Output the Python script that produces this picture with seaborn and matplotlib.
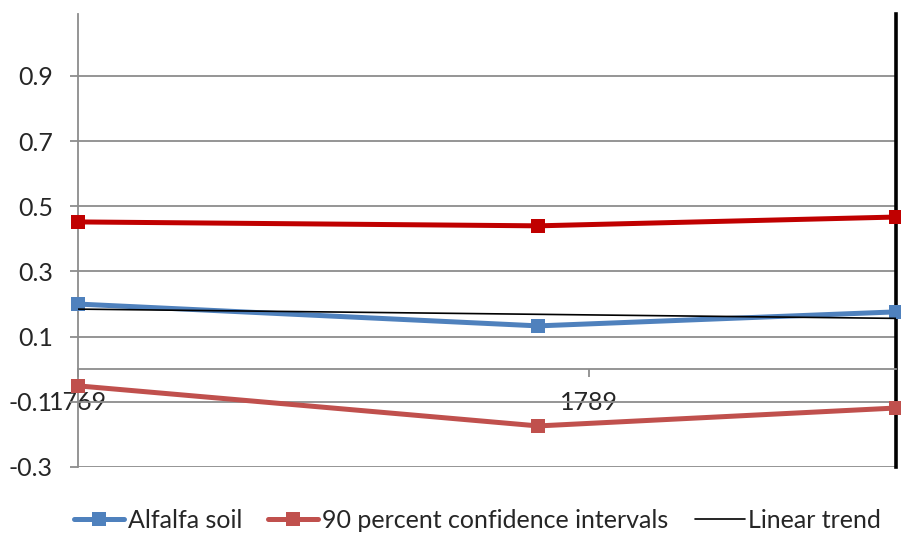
import numpy as np
import pandas as pd
import seaborn as sns
import matplotlib.pyplot as plt
from matplotlib.lines import Line2D

# Series values
years = [1769, 1787, 1801]
alfalfa_soil = [0.200, 0.133, 0.176]
ci_upper = [0.452, 0.440, 0.467]
ci_lower = [-0.051, -0.174, -0.119]

y_ticks = [-0.3, -0.1, 0.1, 0.3, 0.5, 0.7, 0.9]
y_tick_labels = ["-0.3", "-0.1", "0.1", "0.3", "0.5", "0.7", "0.9"]
x_ticks = [1769, 1789]
x_tick_labels = ["1769", "1789"]

sns.set_style("white")
plt.rcParams["font.family"] = ["Lato", "DejaVu Sans"]

BLUE = "#4F81BD"
RED_DARK = "#C00000"
RED = "#C0504D"
GRID = "#8C8C8C"

fig = plt.figure(figsize=(9.01, 5.34), dpi=100)
ax = fig.add_axes([78 / 901, 1 - 467 / 534, (896 - 78) / 901, (467 - 14) / 534])

df = pd.DataFrame({"year": years, "alfalfa": alfalfa_soil,
                   "upper": ci_upper, "lower": ci_lower})

# Least-squares trend of the alfalfa series
slope, intercept = np.polyfit(years, alfalfa_soil, 1)
trend_x = [years[0], years[-1]]
trend_y = list(np.polyval([slope, intercept], trend_x))

line_kw = dict(marker="s", markersize=10, markeredgewidth=0, linewidth=3.6,
               clip_on=False, ax=ax)
sns.lineplot(data=df, x="year", y="upper", color=RED_DARK, zorder=3, **line_kw)
sns.lineplot(data=df, x="year", y="lower", color=RED, zorder=3, **line_kw)
sns.lineplot(data=df, x="year", y="alfalfa", color=BLUE, zorder=3, **line_kw)
sns.lineplot(x=trend_x, y=trend_y, color="black", linewidth=1.2, zorder=4, ax=ax)

ax.set_xlim(1769, 1801)
ax.set_ylim(-0.3, 1.09)
ax.set_xlabel("")
ax.set_ylabel("")

ax.set_yticks(y_ticks)
ax.set_yticklabels(y_tick_labels)
ax.set_xticks(x_ticks)
ax.set_xticklabels(x_tick_labels)

ax.yaxis.grid(True, color=GRID, linewidth=1.3)
ax.xaxis.grid(False)
ax.set_axisbelow(True)

ax.spines["top"].set_visible(False)
ax.spines["left"].set_color(GRID)
ax.spines["left"].set_linewidth(1.3)
ax.spines["bottom"].set_position(("data", 0))
ax.spines["bottom"].set_color(GRID)
ax.spines["bottom"].set_linewidth(1.3)
ax.spines["right"].set_color("black")
ax.spines["right"].set_linewidth(2.6)

ax.tick_params(axis="y", direction="out", length=6, width=1.3, color=GRID,
               labelsize=18, pad=12, left=True)
ax.tick_params(axis="x", direction="out", length=6, width=1.3, color=GRID,
               labelsize=18, pad=10, bottom=True)

handles = [
    Line2D([], [], color=BLUE, marker="s", markersize=10, markeredgewidth=0, linewidth=3.6),
    Line2D([], [], color=RED, marker="s", markersize=10, markeredgewidth=0, linewidth=3.6),
    Line2D([], [], color="black", linewidth=1.2),
]
labels = ["Alfalfa soil", "90 percent confidence intervals", "Linear trend"]
ax.get_legend() and ax.get_legend().remove()
fig.legend(handles, labels, loc="center", bbox_to_anchor=(0.53, 0.026), ncol=3,
           frameon=False, fontsize=18, handlelength=2.0, handletextpad=0.15,
           columnspacing=1.05, borderaxespad=0)

fig.savefig("out.png", dpi=100)
